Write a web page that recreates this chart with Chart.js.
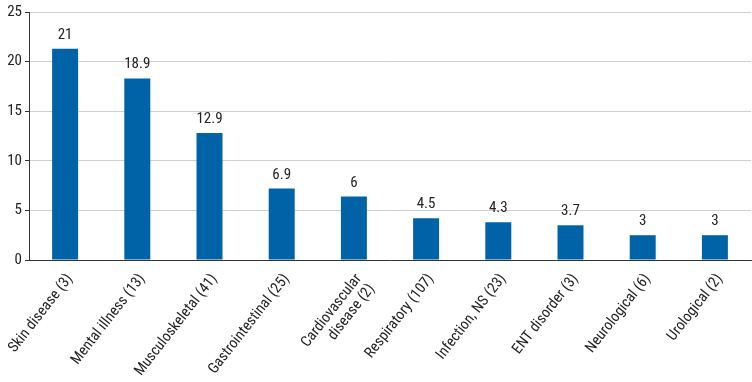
<!DOCTYPE html>
<html><head><meta charset="utf-8">
<script src="https://cdn.jsdelivr.net/npm/chart.js@4/dist/chart.umd.min.js"></script>
<style>html,body{margin:0;padding:0;background:#fff}#wrap{width:752px;height:382px}</style>
</head><body><div id="wrap"><canvas id="c"></canvas></div>
<script>
const categories = ['Skin disease (3)','Mental illness (13)','Musculoskeletal (41)','Gastrointestinal (25)',['Cardiovascular','disease (2)'],'Respiratory (107)','Infection, NS (23)','ENT disorder (3)','Neurological (6)','Urological (2)'];
const barValues = [21.3,18.3,12.8,7.2,6.4,4.2,3.8,3.5,2.5,2.5];
const valueLabels = ['21','18.9','12.9','6.9','6','4.5','4.3','3.7','3','3'];
const yTicks = [0,5,10,15,20,25];

const FONT = "'Liberation Sans Narrow','Roboto Condensed','Liberation Sans',Arial,sans-serif";
const labelPlugin = {
  id:'vlabels',
  afterDatasetsDraw(chart){
    const ctx = chart.ctx;
    const meta = chart.getDatasetMeta(0);
    ctx.save();
    ctx.font = '15px ' + FONT;
    ctx.fillStyle = '#222';
    ctx.textAlign = 'center';
    ctx.textBaseline = 'alphabetic';
    meta.data.forEach((el,i)=>{ ctx.fillText(valueLabels[i], el.x, el.y - 10); });
    ctx.restore();
  }
};
new Chart(document.getElementById('c'),{
  type:'bar',
  data:{labels:categories,datasets:[{data:barValues,backgroundColor:'#0063a8',barPercentage:0.36,categoryPercentage:1}]},
  options:{
    responsive:true,maintainAspectRatio:false,animation:false,
    layout:{padding:{top:10,right:1,left:0,bottom:0}},
    plugins:{legend:{display:false},tooltip:{enabled:false}},
    scales:{
      x:{
        grid:{display:false,drawTicks:false},
        border:{color:'#333',width:1},
        ticks:{autoSkip:false,maxRotation:52,minRotation:52,color:'#222',font:{family:FONT,size:15,lineHeight:1.1},padding:11,labelOffset:5},
        afterFit(s){s.height=122;s.paddingLeft=0;s.paddingRight=0;}
      },
      y:{
        min:0,max:25,
        afterBuildTicks(s){s.ticks = yTicks.map(v=>({value:v}));},
        grid:{color:'#cfcfcf',tickLength:4,tickColor:'#333'},
        border:{color:'#333',width:1},
        ticks:{color:'#222',font:{family:FONT,size:15},padding:3},
        afterFit(s){s.width=29;}
      }
    }
  },
  plugins:[labelPlugin]
});
</script></body></html>
